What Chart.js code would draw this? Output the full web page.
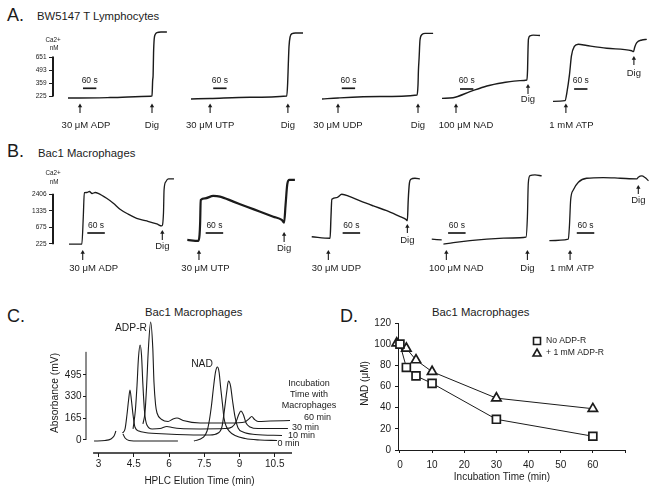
<!DOCTYPE html>
<html>
<head>
<meta charset="utf-8">
<script src="https://cdn.jsdelivr.net/npm/chart.js@4.4.1/dist/chart.umd.min.js"></script>
<style>
  body { margin: 0; background: #fff; }
  #page { position: relative; width: 656px; height: 493px; overflow: hidden; font-family: "Liberation Sans", Arial, sans-serif; color: #1b1b1b; }
  #page canvas { position: absolute; left: 0; top: 0; }
  .txt { position: absolute; line-height: 1; white-space: nowrap; }
  .letter { font-size: 18px; }
  .title { font-size: 11.3px; }
</style>
</head>
<body>
<div id="page">
  <div class="txt letter" style="left:7px;top:5.5px">A.</div>
  <div class="txt title" style="left:37px;top:11px">BW5147 T Lymphocytes</div>
  <div class="txt letter" style="left:7px;top:141.5px">B.</div>
  <div class="txt title" style="left:38px;top:147.5px">Bac1 Macrophages</div>
  <div class="txt letter" style="left:7px;top:306.5px">C.</div>
  <div class="txt title" style="left:145px;top:306.5px">Bac1 Macrophages</div>
  <div class="txt letter" style="left:340px;top:306.5px">D.</div>
  <div class="txt title" style="left:432px;top:306.5px">Bac1 Macrophages</div>
  <canvas id="rowA" width="656" height="493"></canvas>
  <canvas id="rowB" width="656" height="493"></canvas>
  <canvas id="hplc" width="656" height="493"></canvas>
  <canvas id="nad" width="656" height="493"></canvas>
</div>
<script>
// ---------- A. BW5147 T lymphocytes
// time in s from the start of each trace, signal in steps of the Ca2+ axis ticks
var caTicksA = ['225', '359', '493', '651'];
var agonistsA = ['30 μM ADP', '30 μM UTP', '30 μM UDP', '100 μM NAD', '1 mM ATP'];
var addTimeA = [54, 86, 72, 63, 58];
var digTimeA = [378, 436, 432, 387, 364];

var tAdpA = [0, 54, 189, 372, 378, 381, 383, 385, 388, 393, 400, 418, 445];
var caAdpA = [-0.15, -0.15, -0.12, -0.02, 0, 1.2, 1.6, 3.3, 4.4, 4.75, 4.88, 4.92, 4.92];
var tUtpA = [0, 86, 265, 431, 435, 438, 441, 446, 455, 470, 504];
var caUtpA = [-0.23, -0.19, -0.1, 0, 1.0, 2.5, 3.8, 4.55, 4.8, 4.85, 4.85];
var tUdpA = [0, 72, 261, 428, 432, 434, 437, 441, 450, 464, 500];
var caUdpA = [-0.23, -0.15, -0.04, 0.08, 0.85, 2.0, 2.92, 4.31, 4.73, 4.82, 4.82];
var tNadA = [0, 50, 126, 202, 274, 351, 382, 385, 387, 389, 396, 410, 441];
var caNadA = [-0.18, -0.13, 0.33, 0.77, 1.02, 1.18, 1.23, 2.0, 3.54, 4.38, 4.62, 4.68, 4.65];
var tAtpA = [0, 54, 63, 74, 83, 96, 114, 152, 242, 354, 362, 368, 377, 400, 422];
var caAtpA = [-0.41, -0.36, 0.31, 1.62, 3.08, 3.81, 3.98, 3.88, 3.67, 3.48, 3.41, 3.77, 4.1, 4.31, 4.36];

// ---------- B. Bac1 macrophages
var caTicksB = ['225', '675', '1335', '2406'];
var agonistsB = ['30 μM ADP', '30 μM UTP', '30 μM UDP', '100 μM NAD', '1 mM ATP'];
var addTimeB = [47, 40, 57, 50, 71];
var digTimeB = [320, 332, 328, 328, 305];

var tAdpB = [0, 44, 49, 52.5, 61, 70, 79, 90, 100, 129, 152, 175, 203, 232, 267, 301, 318, 324, 326, 332, 341, 360];
var caAdpB = [-0.02, -0.02, 1.64, 3.09, 3.10, 3.16, 3.04, 3.1, 3.05, 2.75, 2.45, 2.09, 1.79, 1.54, 1.38, 1.20, 1.08, 1.86, 3.25, 3.75, 3.92, 3.92];
var tUtpB = [0, 38, 42, 44, 46, 61, 89, 112, 158, 204, 250, 295, 324, 332, 337, 343, 350, 369];
var caUtpB = [0.24, 0.18, 0.54, 1.26, 2.65, 2.75, 2.89, 2.85, 2.55, 2.24, 1.94, 1.64, 1.44, 1.28, 2.35, 3.61, 3.86, 3.86];
var tUdpB = [0, 63, 66, 69, 86, 103, 131, 166, 211, 257, 303, 323, 328, 331, 335, 340, 354, 371];
var caUdpB = [0.43, 0.34, 1.62, 2.69, 2.79, 2.99, 2.85, 2.59, 2.29, 2.0, 1.64, 1.48, 1.40, 2.65, 3.66, 3.90, 3.96, 3.92];
var tNadB = [0, 34, 37, 40, 74, 131, 189, 246, 302, 323, 328, 331, 337, 354, 377];
var caNadB = [0.28, 0.24, null, -0.02, 0.07, 0.19, 0.28, 0.34, 0.37, 0.40, 1.64, 3.66, 4.12, 4.16, 4.10];
var tAtpB = [0, 65, 69, 73, 82, 99.5, 128, 185, 243, 300, 305, 317, 328, 340];
var caAtpB = [0.19, 0.28, 1.14, 2.65, 3.25, 3.72, 3.96, 4.0, 3.96, 3.92, 4.02, 4.10, 4.0, 3.81];

// ---------- C. HPLC of NAD incubated with macrophages (min, mV)
var hplcTicks = [3, 4.5, 6, 7.5, 9, 10.5];
var absTicks = [0, 165, 330, 495];
var incubation = ['0 min', '10 min', '30 min', '60 min'];
var rt0 = [2.81, 3.28, 3.53, 3.66, 3.74, 3.9, 4.04, 4.13, 4.30, 4.77, 5.62, 6.38, 6.7, 7.06, 7.45, 7.62, 7.72, 7.81, 7.89, 7.98, 8.06, 8.13, 8.20, 8.28, 8.34, 8.43, 8.56, 8.81, 9.24, 9.87, 10.60];
var abs0 = [-8, -4, 8, 30, 68, null, 46, 15, -4, -8, -8, -8, null, -8, 19, 68, 152, 266, 395, 517, 555, 517, 395, 266, 167, 106, 68, 34, 11, 0, -4];
var rt10 = [4.02, 4.13, 4.21, 4.28, 4.34, 4.40, 4.47, 4.55, 4.72, 4.98, 5.90, 7.32, 7.74, 8.09, 8.26, 8.36, 8.45, 8.53, 8.62, 8.70, 8.81, 8.94, 9.15, 9.66, 10.81];
var abs10 = [53, 84, 190, 304, 380, 304, 190, 99, 68, 57, 46, 38, 38, 53, 106, 228, 357, 448, 410, 304, 175, 91, 61, 42, 34];
var rt30 = [4.47, 4.57, 4.64, 4.70, 4.77, 4.83, 4.89, 4.96, 5.06, 5.28, 5.62, 5.91, 6.13, 6.47, 7.32, 8.38, 8.68, 8.85, 8.96, 9.06, 9.17, 9.28, 9.45, 9.79, 11.06];
var abs30 = [84, 228, 418, 623, 722, 646, 418, 213, 114, 84, 87, 103, 95, 87, 84, 87, 99, 137, 190, 220, 190, 129, 99, 87, 87];
var rt60 = [4.89, 4.98, 5.05, 5.12, 5.22, 5.31, 5.36, 5.43, 5.49, 5.69, 5.96, 6.17, 6.34, 6.60, 7.32, 8.60, 9.23, 9.40, 9.52, 9.64, 9.79, 10.30, 11.15];
var abs60 = [122, 213, 418, 684, 897, 699, 441, 266, 205, 156, 141, 160, 167, 148, 129, 129, 137, 160, 179, 156, 141, 144, 148];

// ---------- D. NAD remaining (μM) vs incubation time (min)
var seriesD = ['No ADP-R', '+ 1 mM ADP-R'];
var timeD = [0, 2, 5, 10, 30, 60];
var nadNoAdpr = [100, 78, 70, 63, 29, 13];
var timeDAdpr = [-1, 2, 5, 10, 30, 60];
var nadAdpr = [101, 96, 85, 74, 49, 39];
var dTicks = [0, 10, 20, 30, 40, 50, 60, 70];
var dTickLabels = ['0', '10', '20', '30', '40', '50', '60', ''];

// ---------- layout (page pixels) ----------
var ink = '#1b1b1b';
var FONT = '"Liberation Sans", Arial, sans-serif';
Chart.defaults.font.family = FONT;
Chart.defaults.color = ink;

var layoutA = {
  offsets: [67.5, 621, 1210.5, 1750.5, 2250],   // s from row origin
  xMax: 2713.5, yMin: -3, yMax: 6, top: 18, bottom: 135,
  unit: [40, 48.5],
  arrow: [103.5, 113, 125],
  dig: [[103.5, 113, 125], [103.5, 113, 125], [103.5, 113, 125], [84, 94, 99.5], [56, 65, 73]],
  labelDx: [6, 0, 0, 10, 5.5],
  bar: [67.5, 100, 89, 81, 95], barY: [88.3, 88.3, 88.3, 89, 89], barText: 81,
  width: [1.4, 1.4, 1.4, 1.4, 1.4]
};
var layoutB = {
  offsets: [54.9, 460.6, 887.3, 1299, 1702.3],
  xMax: 2068, yMin: -2, yMax: 5, top: 161, bottom: 277,
  unit: [173, 182],
  arrow: [250, 260, 268],
  dig: [[230, 240, 246], [232, 242, 248], [224, 233, 240], [250, 260, 268], [185, 194, 200.5]],
  labelDx: [11, 6.5, 8, 10, 2],
  bar: [62.8, 63, 106, 56, 94], barY: [233, 233, 233, 233, 233], barText: 226,
  width: [1.3, 2.2, 1.4, 1.3, 1.3]
};

function pts(xs, ys) { return xs.map(function (x, i) { return { x: x, y: ys[i] }; }); }

function put(ctx, str, x, y, size, align, rot) {
  ctx.save();
  ctx.font = size + 'px ' + FONT;
  ctx.fillStyle = ink;
  ctx.textAlign = align || 'center';
  ctx.textBaseline = 'middle';
  ctx.translate(x, y);
  if (rot) ctx.rotate(rot);
  ctx.fillText(str, 0, 0);
  ctx.restore();
}

function arrow(ctx, x, top, bottom) {
  ctx.lineWidth = 1.1;
  ctx.beginPath(); ctx.moveTo(x, top + 2); ctx.lineTo(x, bottom); ctx.stroke();
  ctx.beginPath(); ctx.moveTo(x, top); ctx.lineTo(x - 2.2, top + 3.8); ctx.lineTo(x + 2.2, top + 3.8); ctx.closePath(); ctx.fill();
}

function baseOptions(padding) {
  return {
    responsive: false, maintainAspectRatio: false, animation: false, devicePixelRatio: 1, events: [],
    layout: { padding: padding },
    plugins: { legend: { display: false }, tooltip: { enabled: false }, title: { display: false } },
    elements: { point: { radius: 0 }, line: { borderColor: ink, borderWidth: 1.3, cubicInterpolationMode: 'monotone' } }
  };
}

function traceRow(id, lay, traces, ticks, agonists, addT, digT) {
  var opts = baseOptions({ left: 0, right: 0, top: lay.top, bottom: 493 - lay.bottom });
  opts.scales = {
    x: { type: 'linear', display: false, min: 0, max: lay.xMax },
    y: {
      min: lay.yMin, max: lay.yMax,
      afterFit: function (s) { s.width = 53; },
      afterBuildTicks: function (s) { s.ticks = ticks.map(function (_, i) { return { value: i }; }); },
      ticks: { autoSkip: false, padding: 2.5, font: { size: 6.5 }, callback: function (v, i) { return ticks[i]; } },
      grid: { drawOnChartArea: false, tickLength: 4, color: ink, tickColor: ink, lineWidth: 1 },
      border: { display: false }
    }
  };
  var decor = {
    id: 'decor',
    afterDatasetsDraw: function (chart) {
      var ctx = chart.ctx, xs = chart.scales.x, ys = chart.scales.y, area = chart.chartArea;
      ctx.save();
      ctx.strokeStyle = ink; ctx.fillStyle = ink;
      ctx.lineWidth = 2;
      ctx.beginPath();
      ctx.moveTo(area.left, ys.getPixelForValue(0) + 0.5);
      ctx.lineTo(area.left, ys.getPixelForValue(ticks.length - 1) - 0.5);
      ctx.stroke();
      put(ctx, 'Ca2+', area.left, lay.unit[0], 6.3);
      put(ctx, 'nM', area.left + 1, lay.unit[1], 6.3);
      lay.offsets.forEach(function (off, i) {
        var xa = xs.getPixelForValue(off + addT[i]);
        arrow(ctx, xa, lay.arrow[0], lay.arrow[1]);
        put(ctx, agonists[i], xa + lay.labelDx[i], lay.arrow[2], 9.5);
        var d = lay.dig[i], xd = xs.getPixelForValue(off + digT[i]);
        arrow(ctx, xd, d[0], d[1]);
        put(ctx, 'Dig', xd, d[2], 9.5);
        var b0 = xs.getPixelForValue(off + lay.bar[i]), b1 = xs.getPixelForValue(off + lay.bar[i] + 60);
        ctx.lineWidth = 1.7;
        ctx.beginPath(); ctx.moveTo(b0, lay.barY[i]); ctx.lineTo(b1, lay.barY[i]); ctx.stroke();
        put(ctx, '60 s', (b0 + b1) / 2, lay.barText, 8.5);
      });
      ctx.restore();
    }
  };
  new Chart(document.getElementById(id), {
    type: 'line',
    data: {
      datasets: traces.map(function (tr, i) {
        return { data: pts(tr[0].map(function (t) { return lay.offsets[i] + t; }), tr[1]), borderWidth: lay.width[i], clip: false, spanGaps: false };
      })
    },
    options: opts,
    plugins: [decor]
  });
}

traceRow('rowA', layoutA, [[tAdpA, caAdpA], [tUtpA, caUtpA], [tUdpA, caUdpA], [tNadA, caNadA], [tAtpA, caAtpA]], caTicksA, agonistsA, addTimeA, digTimeA);
traceRow('rowB', layoutB, [[tAdpB, caAdpB], [tUtpB, caUtpB], [tUdpB, caUdpB], [tNadB, caNadB], [tAtpB, caAtpB]], caTicksB, agonistsB, addTimeB, digTimeB);

// ---------- C ----------
var endLabelPos = [[288.5, 444], [301.5, 436], [305.5, 428], [317.5, 417.5]];
var optsC = baseOptions({ left: 40, right: 364, top: 322, bottom: 10 });
optsC.scales = {
  x: {
    type: 'linear', min: 2.468, max: 11.234,
    afterFit: function (s) { s.height = 30; },
    afterBuildTicks: function (s) { s.ticks = hplcTicks.map(function (v) { return { value: v }; }); },
    ticks: { autoSkip: false, maxRotation: 0, padding: 1.3, font: { size: 10 } },
    grid: { drawOnChartArea: false, tickLength: 4, color: ink, tickColor: ink },
    border: { display: false }
  },
  y: {
    min: -99, max: 897,
    afterFit: function (s) { s.width = 46; },
    afterBuildTicks: function (s) { s.ticks = absTicks.map(function (v) { return { value: v }; }); },
    ticks: { autoSkip: false, padding: 1.5, font: { size: 10 } },
    grid: { drawOnChartArea: false, tickLength: 3, color: ink, tickColor: ink },
    border: { display: false }
  }
};
new Chart(document.getElementById('hplc'), {
  type: 'line',
  data: {
    datasets: [[rt0, abs0], [rt10, abs10], [rt30, abs30], [rt60, abs60]].map(function (s) {
      return { data: pts(s[0], s[1]), borderWidth: 1.1, clip: false, spanGaps: false };
    })
  },
  options: optsC,
  plugins: [{
    id: 'hplcDecor',
    afterDatasetsDraw: function (chart) {
      var ctx = chart.ctx, xs = chart.scales.x, ys = chart.scales.y, area = chart.chartArea;
      ctx.save();
      ctx.strokeStyle = ink; ctx.lineWidth = 1;
      ctx.beginPath(); ctx.moveTo(area.left, ys.getPixelForValue(0)); ctx.lineTo(area.left, ys.getPixelForValue(670)); ctx.stroke();
      ctx.lineWidth = 1.4;
      ctx.beginPath(); ctx.moveTo(xs.getPixelForValue(2.77), area.bottom); ctx.lineTo(area.right, area.bottom); ctx.stroke();
      put(ctx, 'ADP-R', 131, 328, 10.3);
      put(ctx, 'NAD', 202, 364, 10.3);
      put(ctx, 'Incubation', 309, 384, 9);
      put(ctx, 'Time with', 309, 395, 9);
      put(ctx, 'Macrophages', 309, 406, 9);
      incubation.forEach(function (lab, i) { put(ctx, lab, endLabelPos[i][0], endLabelPos[i][1], 9); });
      put(ctx, 'Absorbance (mV)', 55, 393, 10.3, 'center', -Math.PI / 2);
      put(ctx, 'HPLC Elution Time (min)', 199.5, 481, 10);
      ctx.restore();
    }
  }]
});

// ---------- D ----------
var optsD = baseOptions({ left: 360, right: 31, top: 323, bottom: 18 });
optsD.scales = {
  x: {
    type: 'linear', min: -0.6, max: 70,
    afterFit: function (s) { s.height = 25; },
    afterBuildTicks: function (s) { s.ticks = dTicks.map(function (v) { return { value: v }; }); },
    ticks: { autoSkip: false, maxRotation: 0, padding: 6, font: { size: 10 }, callback: function (v, i) { return dTickLabels[i]; } },
    grid: { drawOnChartArea: false, tickLength: 3, color: ink, tickColor: ink },
    border: { color: ink, width: 1 }
  },
  y: {
    min: 0, max: 120,
    afterFit: function (s) { s.width = 38; },
    ticks: { stepSize: 20, padding: 4, font: { size: 10 } },
    grid: { drawOnChartArea: false, tickLength: 3, color: ink, tickColor: ink },
    border: { color: ink, width: 1 }
  }
};
function markerSet(style, r) {
  return { borderColor: ink, borderWidth: 1, cubicInterpolationMode: 'default', tension: 0, pointStyle: style, pointRadius: r,
           pointBorderWidth: 1.7, pointBackgroundColor: '#fff', pointBorderColor: ink, clip: false };
}
new Chart(document.getElementById('nad'), {
  type: 'line',
  data: {
    datasets: [
      Object.assign({ label: seriesD[0], data: pts(timeD, nadNoAdpr) }, markerSet('rect', 5.6)),
      Object.assign({ label: seriesD[1], data: pts(timeDAdpr, nadAdpr) }, markerSet('triangle', 5.4))
    ]
  },
  options: optsD,
  plugins: [{
    id: 'nadDecor',
    afterDatasetsDraw: function (chart) {
      var ctx = chart.ctx;
      ctx.save();
      ctx.strokeStyle = ink; ctx.fillStyle = '#fff'; ctx.lineWidth = 1.6;
      ctx.beginPath(); ctx.rect(533.5, 337.5, 7, 7); ctx.fill(); ctx.stroke();
      ctx.beginPath(); ctx.moveTo(537, 349); ctx.lineTo(541, 356); ctx.lineTo(533, 356); ctx.closePath(); ctx.fill(); ctx.stroke();
      put(ctx, seriesD[0], 546, 341, 8.6, 'left');
      put(ctx, seriesD[1], 546, 353, 8.6, 'left');
      put(ctx, 'NAD (μM)', 365, 383.5, 10, 'center', -Math.PI / 2);
      put(ctx, 'Incubation Time (min)', 502, 477.7, 10);
      ctx.restore();
    }
  }]
});
</script>
</body>
</html>
